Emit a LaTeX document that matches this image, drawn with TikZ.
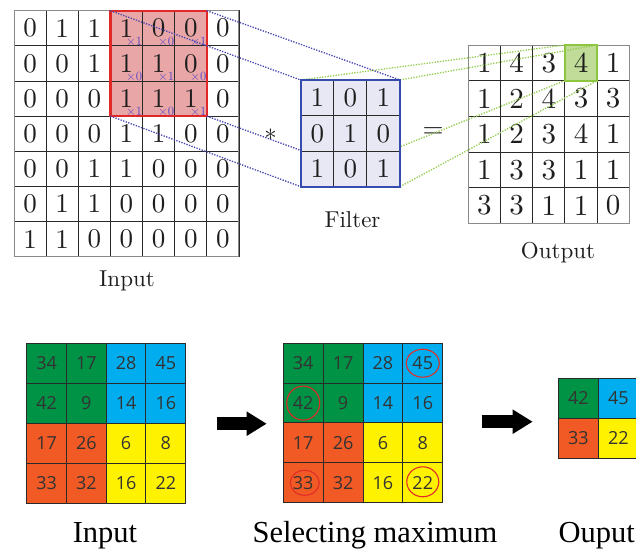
\documentclass[tikz,border=0pt]{standalone}
\usepackage{fontspec}
\setmainfont{lmroman10-regular.otf}
\newfontfamily\timesf{Liberation Serif}
\newfontfamily\sansf{Open Sans}
\usetikzlibrary{arrows.meta}
\definecolor{gridc}{HTML}{2A2A2A}
\definecolor{framec}{HTML}{8A8A8A}
\definecolor{txt}{HTML}{1E1E1E}
\definecolor{redfill}{RGB}{233,166,166}
\definecolor{redline}{RGB}{224,40,40}
\definecolor{klab}{RGB}{92,72,200}
\definecolor{filtfill}{RGB}{232,232,245}
\definecolor{filtline}{RGB}{55,75,175}
\definecolor{bdot}{RGB}{70,70,180}
\definecolor{gdot}{RGB}{150,205,80}
\definecolor{gfill}{RGB}{192,220,152}
\definecolor{gline}{RGB}{140,198,63}
\definecolor{qgreen}{HTML}{009245}
\definecolor{qblue}{HTML}{00AEEF}
\definecolor{qorange}{HTML}{F15A24}
\definecolor{qyellow}{HTML}{FFF200}
\definecolor{qtxt}{HTML}{333333}
\definecolor{qgrid}{HTML}{2A2A2A}
\definecolor{circc}{RGB}{225,45,40}
\pgfdeclarelayer{lines}
\pgfdeclarelayer{front}
\pgfsetlayers{main,lines,front}
\tikzset{
  incell/.style={draw=gridc, line width=0.9pt, minimum width=32.14pt, minimum height=35.14pt,
    inner sep=0pt, outer sep=0pt, text=txt, font=\fontsize{27}{27}\selectfont},
  fcell/.style={draw=gridc, line width=0.9pt, minimum width=33.1pt, minimum height=35.55pt,
    inner sep=0pt, outer sep=0pt, text=txt, font=\fontsize{27}{27}\selectfont},
  ocell/.style={draw=gridc, line width=0.9pt, minimum width=32.2pt, minimum height=35.66pt,
    inner sep=0pt, outer sep=0pt, text=txt, font=\fontsize{29}{29}\selectfont},
  klabel/.style={anchor=south east, inner sep=0.3pt, text=klab, font=\fontsize{12.5}{12.5}\selectfont},
  toplabel/.style={anchor=base, inner sep=0pt, text=txt, font=\fontsize{23}{23}\selectfont},
  botlabel/.style={anchor=base, inner sep=0pt, text=black, font=\timesf\fontsize{30.5}{30.5}\selectfont},
  qcell/.style={draw=qgrid, line width=0.9pt, minimum width=39.8pt, minimum height=40pt,
    inner sep=0pt, outer sep=0pt, text=qtxt, font=\sansf\fontsize{18}{18}\selectfont},
  bluedot/.style={draw=bdot, line width=1.3pt, dash pattern=on 1.3pt off 1.4pt},
  greendot/.style={draw=gdot, line width=1.3pt, dash pattern=on 1.3pt off 1.4pt},
  fatarrow/.style={line width=13.5pt, black, -{Triangle[length=20pt,width=23pt]}},
  redcirc/.style={draw=circc, line width=1.1pt},
}
\begin{document}
\begin{tikzpicture}[x=1pt,y=-1pt]
\useasboundingbox (0,0) rectangle (636,552);
\clip (0,0) rectangle (636,552);
\fill[white] (0,0) rectangle (636,552);

% ---------- top: input grid ----------
\fill[redfill] (110.4,10.7) rectangle (206.8,116.1);
\foreach \row [count=\r from 0] in {{0,1,1,1,0,0,0},{0,0,1,1,1,0,0},{0,0,0,1,1,1,0},{0,0,0,1,1,0,0},{0,0,1,1,0,0,0},{0,1,1,0,0,0,0},{1,1,0,0,0,0,0}}{
  \foreach \d [count=\c from 0] in \row {
    \node[incell] (i-\r-\c) at ({14+32.14*(\c+0.5)},{10.7+35.14*(\r+0.5)}) {\d};
  }
}
\draw[framec, line width=1pt] (i-0-0.north west) rectangle (i-6-6.south east);
\node[draw=redline, line width=2.2pt, minimum width=96.42pt, minimum height=105.42pt, inner sep=0pt, outer sep=0pt] (red) at (i-1-4) {};
\foreach \row [count=\r from 0] in {{1,0,1},{0,1,0},{1,0,1}}{
  \foreach \k [count=\c from 3] in \row {
    \node[klabel] (k-\r-\c) at (i-\r-\c.south east) {×\k};
  }
}
\node[toplabel] (inlabel) at (127,286.5) {Input};

% ---------- top: output grid ----------
\fill[gfill] (564.9,45) rectangle (597.1,80.66);
\foreach \row [count=\r from 0] in {{1,4,3,4,1},{1,2,4,3,3},{1,2,3,4,1},{1,3,3,1,1},{3,3,1,1,0}}{
  \foreach \d [count=\c from 0] in \row {
    \node[ocell] (o-\r-\c) at ({468.3+32.2*(\c+0.5)},{45+35.66*(\r+0.5)}) {\d};
  }
}
\draw[framec, line width=1pt] (o-0-0.north west) rectangle (o-4-4.south east);
\node[draw=gline, line width=2.2pt, minimum width=32.2pt, minimum height=35.66pt, inner sep=0pt, outer sep=0pt] (gcell) at (o-0-3) {};
\node[toplabel] (outlabel) at (558,258) {Output};

% ---------- top: filter ----------
\begin{pgfonlayer}{front}
\node[draw=filtline, fill=filtfill, line width=2.2pt, minimum width=99.3pt, minimum height=106.65pt, inner sep=0pt, outer sep=0pt] (filt) at (350.35,133.3) {};
\foreach \row [count=\r from 0] in {{1,0,1},{0,1,0},{1,0,1}}{
  \foreach \d [count=\c from 0] in \row {
    \node[fcell] (f-\r-\c) at ({300.7+33.1*(\c+0.5)},{80+35.55*(\r+0.5)}) {\d};
  }
}
\draw[filtline, line width=2.2pt] (filt.north west) rectangle (filt.south east);
\end{pgfonlayer}
\node[toplabel] (filtlabel) at (352.5,227.3) {Filter};
\node[inner sep=0pt, text=txt, font=\fontsize{24}{24}\selectfont] (star) at (270.5,135) {$\ast$};
\node[inner sep=0pt, text=txt, font=\fontsize{27}{27}\selectfont] (eq) at (433,132.7) {=};

% ---------- dotted connectors ----------
\begin{pgfonlayer}{lines}
\draw[bluedot] (red.north west) -- (filt.north west);
\draw[bluedot] (red.north east) -- (filt.north east);
\draw[bluedot] (red.south west) -- (filt.south west);
\draw[bluedot] (red.south east) -- (filt.south east);
\draw[greendot] (filt.north west) -- (gcell.north west);
\draw[greendot] (filt.north east) -- (gcell.north east);
\draw[greendot] (filt.south west) -- (gcell.south west);
\draw[greendot] (filt.south east) -- (gcell.south east);
\end{pgfonlayer}

% ---------- bottom: max pooling ----------
\foreach \row [count=\r from 0] in {{34,17,28,45},{42,9,14,16},{17,26,6,8},{33,32,16,22}}{
  \foreach \d [count=\c from 0] in \row {
    \pgfmathsetmacro{\q}{\r<2 ? (\c<2 ? 1 : 2) : (\c<2 ? 3 : 4)}
    \ifcase\q\or\def\qc{qgreen}\or\def\qc{qblue}\or\def\qc{qorange}\or\def\qc{qyellow}\fi
    \node[qcell, fill=\qc] (p-\r-\c) at ({26.7+39.75*(\c+0.5)},{343.3+40*(\r+0.5)}) {\d};
    \node[qcell, fill=\qc] (s-\r-\c) at ({283.3+39.85*(\c+0.5)},{343.3+39.85*(\r+0.5)}) {\d};
  }
}
\node[qcell, fill=qgreen] (u-0-0) at (578.3,398.3) {42};
\node[qcell, fill=qblue] (u-0-1) at (618.3,398.3) {45};
\node[qcell, fill=qorange] (u-1-0) at (578.3,438.3) {33};
\node[qcell, fill=qyellow] (u-1-1) at (618.3,438.3) {22};

\draw[redcirc] (s-0-3.center) ellipse [x radius=16.5pt, y radius=14pt];
\draw[redcirc] (s-1-0.center) ellipse [x radius=16.5pt, y radius=17pt];
\draw[redcirc] ([xshift=1.5pt]s-3-0.center) ellipse [x radius=14.5pt, y radius=12.5pt];
\draw[redcirc] ([yshift=1pt]s-3-3.center) ellipse [x radius=16pt, y radius=15pt];

\coordinate (a1s) at (216.7,423.7);
\coordinate (a1e) at (266.7,423.7);
\coordinate (a2s) at (481.7,421.7);
\coordinate (a2e) at (532.7,421.7);
\draw[fatarrow] (a1s) -- (a1e);
\draw[fatarrow] (a2s) -- (a2e);

\node[botlabel] (pin) at (105,542.7) {Input};
\node[botlabel] (psel) at (375,542.7) {Selecting maximum};
\node[botlabel, anchor=base west] (pout) at (558.3,542.7) {Ouput};
\end{tikzpicture}
\end{document}
